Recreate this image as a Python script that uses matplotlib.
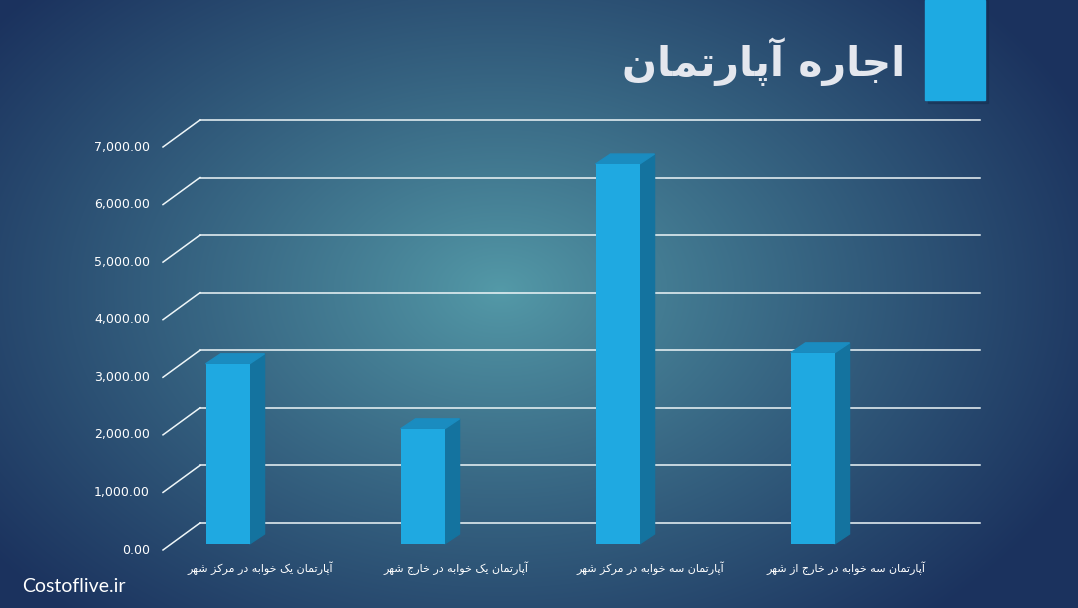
import matplotlib
matplotlib.use("Agg")
import matplotlib.pyplot as plt
import numpy as np
from matplotlib.patches import Polygon, Rectangle

# data
categories = [
    "آپارتمان یک خوابه در مرکز شهر",
    "آپارتمان یک خوابه در خارج شهر",
    "آپارتمان سه خوابه در مرکز شهر",
    "آپارتمان سه خوابه در خارج از شهر",
]
rents = [3130, 2000, 6600, 3320]
y_ticks = [0, 1000, 2000, 3000, 4000, 5000, 6000, 7000]
title = "اجاره آپارتمان"
watermark = "Costoflive.ir"

# arabic presentation forms: isolated, final, initial, medial
FORMS = {
    "ا": ("\uFE8D", "\uFE8E", None, None),
    "آ": ("\uFE81", "\uFE82", None, None),
    "ب": ("\uFE8F", "\uFE90", "\uFE91", "\uFE92"),
    "پ": ("\uFB56", "\uFB57", "\uFB58", "\uFB59"),
    "ت": ("\uFE95", "\uFE96", "\uFE97", "\uFE98"),
    "ج": ("\uFE9D", "\uFE9E", "\uFE9F", "\uFEA0"),
    "خ": ("\uFEA5", "\uFEA6", "\uFEA7", "\uFEA8"),
    "د": ("\uFEA9", "\uFEAA", None, None),
    "ر": ("\uFEAD", "\uFEAE", None, None),
    "ز": ("\uFEAF", "\uFEB0", None, None),
    "س": ("\uFEB1", "\uFEB2", "\uFEB3", "\uFEB4"),
    "ش": ("\uFEB5", "\uFEB6", "\uFEB7", "\uFEB8"),
    "ک": ("\uFB8E", "\uFB8F", "\uFB90", "\uFB91"),
    "م": ("\uFEE1", "\uFEE2", "\uFEE3", "\uFEE4"),
    "ن": ("\uFEE5", "\uFEE6", "\uFEE7", "\uFEE8"),
    "ه": ("\uFEE9", "\uFEEA", "\uFEEB", "\uFEEC"),
    "و": ("\uFEED", "\uFEEE", None, None),
    "ی": ("\uFBFC", "\uFBFD", "\uFBFE", "\uFBFF"),
}


def shape(text):
    # join letters and put them in visual (left to right) order
    out = []
    for i, ch in enumerate(text):
        if ch not in FORMS:
            out.append(ch)
            continue
        prev = text[i - 1] if i > 0 else ""
        nxt = text[i + 1] if i + 1 < len(text) else ""
        join_prev = prev in FORMS and FORMS[prev][2] is not None
        join_next = FORMS[ch][2] is not None and nxt in FORMS
        iso, fin, ini, med = FORMS[ch]
        if join_prev and join_next:
            out.append(med)
        elif join_prev:
            out.append(fin)
        elif join_next:
            out.append(ini)
        else:
            out.append(iso)
    return "".join(out)[::-1]


def main() -> None:
    W, H = 1078, 608
    fig = plt.figure(figsize=(W / 100, H / 100), dpi=100)

    # background radial gradient
    bg = fig.add_axes([0, 0, 1, 1])
    bg.set_axis_off()
    yy, xx = np.mgrid[0:H, 0:W]
    r = np.sqrt(((xx - 500) / 640) ** 2 + ((yy - 290) / 440) ** 2)
    t = np.clip(r, 0, 1)[..., None] ** 0.9
    c0 = np.array([84, 154, 168]) / 255
    c1 = np.array([27, 50, 94]) / 255
    bg.imshow(c0 * (1 - t) + c1 * t, extent=[0, W, H, 0], aspect="auto")
    bg.set_xlim(0, W)
    bg.set_ylim(H, 0)

    # chart axes = back wall of the 3d chart
    ax = fig.add_axes([200 / W, (H - 523) / H, 780 / W, 403 / H])
    ax.set_xlim(-0.5, 3.5)
    ax.set_ylim(0, 7000)
    ax.set_axis_off()
    sx = 4 / 780      # data units per pixel
    sy = 7000 / 403

    grid_color = "#eef6f8"
    for v in y_ticks:
        ax.plot([-0.5, 3.5], [v, v], color=grid_color, lw=1.1, clip_on=False, zorder=1)
        ax.plot([-0.5, -0.5 - 37 * sx], [v, v - 27 * sy], color=grid_color, lw=1.1,
                clip_on=False, zorder=1)
        ax.text(-0.5 - 50 * sx, v - 27 * sy, f"{v:,.2f}", ha="right", va="center",
                color="white", fontsize=9, family="DejaVu Sans")

    # bars: front face, side, top
    xpos = np.arange(len(rents)) - 0.21
    xf = xpos - 29 * sx
    base = -21 * sy
    w = 44 * sx
    dx, dy = 15 * sx, 10 * sy
    ax.bar(xf, rents, bottom=base, width=w, color="#1fa9e1", clip_on=False, zorder=3)
    for x, v in zip(xf, rents):
        xl, xr = x - w / 2, x + w / 2
        side = Polygon([(xr, base), (xr, base + v), (xr + dx, base + v + dy), (xr + dx, base + dy)],
                       closed=True, color="#14739f", clip_on=False, zorder=2.9)
        top = Polygon([(xl, base + v), (xr, base + v), (xr + dx, base + v + dy), (xl + dx, base + v + dy)],
                      closed=True, color="#1a8cc0", clip_on=False, zorder=2.9)
        ax.add_patch(side)
        ax.add_patch(top)

    # category labels under the front edge
    for i, name in enumerate(categories):
        ax.text(i - 37 * sx, -27 * sy - 18 * sy, shape(name), ha="center", va="center",
                color="white", fontsize=8, family=["DejaVu Sans"])

    # title and blue block
    fig.text(905 / W, 1 - 62 / H, shape(title), ha="right", va="center", fontsize=29.5,
             fontweight="bold", color="#e4e7ee", family=["DejaVu Sans"])
    fig.patches.append(Rectangle((928 / W, 1 - 103 / H), 60 / W, 103 / H, transform=fig.transFigure,
                                 color="#0f2a4a", alpha=0.35, zorder=1))
    fig.patches.append(Rectangle((925 / W, 1 - 100 / H), 60 / W, 100 / H, transform=fig.transFigure,
                                 color="#1eaae2", zorder=2))

    fig.text(22 / W, 1 - 587 / H, watermark, ha="left", va="center", fontsize=14,
             color="white", family="Lato")

    fig.savefig("out.png", dpi=100)


if __name__ == "__main__":
    main()
